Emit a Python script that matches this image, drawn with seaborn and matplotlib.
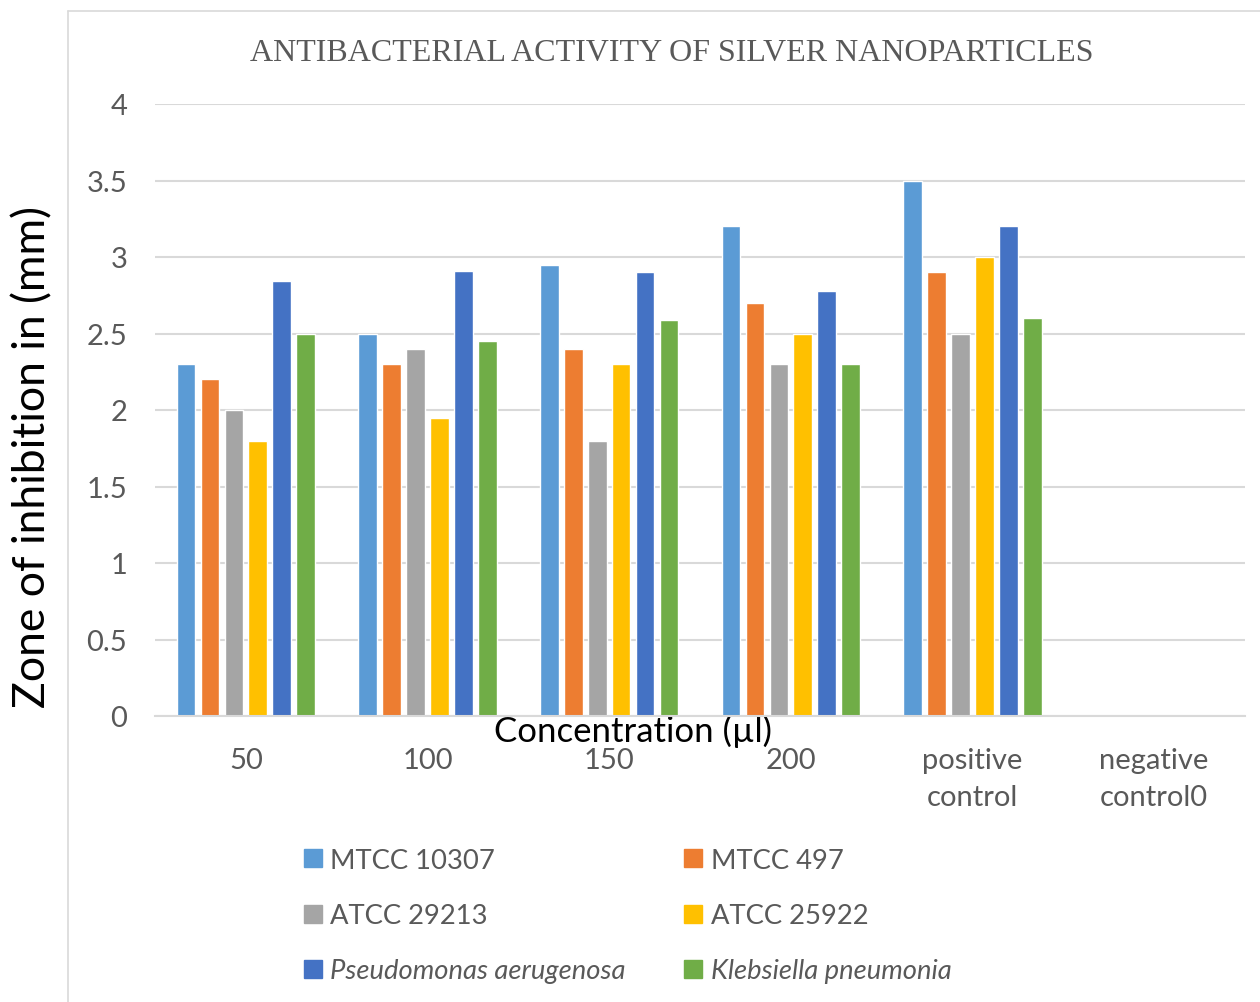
import matplotlib
matplotlib.use("Agg")
import matplotlib.pyplot as plt
from matplotlib.lines import Line2D
import seaborn as sns
import pandas as pd

# Concentrations / controls and strains tested
categories = ["50", "100", "150", "200", "positive\ncontrol", "negative\ncontrol0"]
strains = ["MTCC 10307", "MTCC 497", "ATCC 29213", "ATCC 25922",
           "Pseudomonas aerugenosa", "Klebsiella pneumonia"]

# Zone of inhibition (mm) per strain, one value per category
mtcc_10307 = [2.3, 2.5, 2.95, 3.2, 3.5, 0]
mtcc_497 = [2.2, 2.3, 2.4, 2.7, 2.9, 0]
atcc_29213 = [2.0, 2.4, 1.8, 2.3, 2.5, 0]
atcc_25922 = [1.8, 1.95, 2.3, 2.5, 3.0, 0]
pseudomonas = [2.84, 2.91, 2.9, 2.78, 3.2, 0]
klebsiella = [2.5, 2.45, 2.59, 2.3, 2.6, 0]

yticks = [0, 0.5, 1, 1.5, 2, 2.5, 3, 3.5, 4]
ytick_labels = ["0", "0.5", "1", "1.5", "2", "2.5", "3", "3.5", "4"]

colors = ["#5B9BD5", "#ED7D31", "#A5A5A5", "#FFC000", "#4472C4", "#70AD47"]

series = [mtcc_10307, mtcc_497, atcc_29213, atcc_25922, pseudomonas, klebsiella]
rows = []
for name, vals in zip(strains, series):
    for cat, v in zip(categories, vals):
        rows.append({"category": cat, "strain": name, "zone": v})
df = pd.DataFrame(rows)

sns.set_theme(style="white")
plt.rcParams["font.family"] = ["Lato", "DejaVu Sans"]

fig = plt.figure(figsize=(12.6, 10.03), dpi=100)
ax = fig.add_axes([155 / 1260, 1 - 717 / 1003, 1090 / 1260, 612 / 1003])

sns.barplot(data=df, x="category", y="zone", hue="strain", order=categories,
            hue_order=strains, palette=colors, width=0.79, gap=0.22,
            ax=ax, legend=False, saturation=1, errorbar=None)

ax.set_ylim(0, 4)
ax.set_xlim(-0.5, len(categories) - 0.5)
ax.set_yticks(yticks)
ax.set_yticklabels(ytick_labels)
ax.yaxis.grid(True, color="#D9D9D9", linewidth=1.5)
ax.set_axisbelow(True)
for side in ["left", "right", "top"]:
    ax.spines[side].set_visible(False)
ax.spines["bottom"].set_color("#D9D9D9")
ax.spines["bottom"].set_linewidth(1.5)
ax.tick_params(axis="both", length=0, labelsize=21, colors="#595959")
ax.tick_params(axis="x", pad=22)
ax.tick_params(axis="y", pad=20)
for lbl in ax.get_xticklabels():
    lbl.set_linespacing(1.55)

ax.set_ylabel("Zone of inhibition in (mm)", fontsize=32, color="black")
ax.yaxis.set_label_coords(-0.112, 0.425)
ax.yaxis.label.set_va("center")
ax.set_xlabel("Concentration (µl)", fontsize=25, color="black")
ax.xaxis.set_label_coords(0.4385, -0.023)
ax.xaxis.label.set_va("center")

fig.text(672 / 1260, 1 - 54 / 1003, "ANTIBACTERIAL ACTIVITY OF SILVER NANOPARTICLES",
         family="Liberation Serif", fontsize=23, color="#595959",
         ha="center", va="center")

# Legend laid out row by row in two columns
handles = [Line2D([], [], marker="s", linestyle="none", markersize=12.5,
                  markerfacecolor=c, markeredgecolor=c) for c in colors]
order = [0, 2, 4, 1, 3, 5]
leg = fig.legend([handles[i] for i in order], [strains[i] for i in order],
                 ncol=2, loc="upper left",
                 bbox_to_anchor=(303 / 1260, 1 - 849 / 1003),
                 frameon=False, fontsize=19.7, labelcolor="#595959",
                 handlelength=0.7, handletextpad=0.3, labelspacing=1.1,
                 columnspacing=2.1, borderpad=0, borderaxespad=0)
for t in leg.get_texts():
    if t.get_text() in ("Pseudomonas aerugenosa", "Klebsiella pneumonia"):
        t.set_fontstyle("italic")

# Chart-area border lines
fig.add_artist(Line2D([68 / 1260, 68 / 1260], [0, 1 - 12 / 1003],
                      transform=fig.transFigure, color="#D9D9D9", linewidth=1.2))
fig.add_artist(Line2D([68 / 1260, 1], [1 - 12 / 1003, 1 - 12 / 1003],
                      transform=fig.transFigure, color="#D9D9D9", linewidth=1.2))

fig.savefig("out.png", dpi=100)
